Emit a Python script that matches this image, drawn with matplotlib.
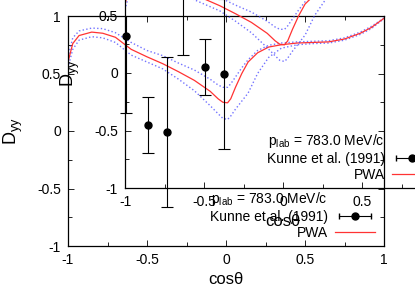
import matplotlib.pyplot as plt
from matplotlib.lines import Line2D
from matplotlib.legend_handler import HandlerLine2D, HandlerTuple
from matplotlib.ticker import MultipleLocator

plt.rcParams['font.family'] = ['Liberation Sans', 'DejaVu Sans']
plt.rcParams['mathtext.fontset'] = 'custom'
plt.rcParams['mathtext.rm'] = 'Liberation Sans'

# PWA curve and its error band
cos_theta = [-1.0, -0.97, -0.93, -0.85, -0.78, -0.7, -0.6, -0.5, -0.4, -0.3,
             -0.2, -0.1, -0.05, -0.02, 0.01, 0.03, 0.06, 0.1, 0.14, 0.2,
             0.27, 0.35, 0.45, 0.55, 0.65, 0.75, 0.85, 0.92, 0.97, 1.0]
pwa = [0.60, 0.76, 0.83, 0.86, 0.85, 0.815, 0.71, 0.645, 0.585, 0.515,
       0.44, 0.345, 0.28, 0.25, 0.245, 0.28, 0.38, 0.50, 0.60, 0.68,
       0.73, 0.75, 0.765, 0.77, 0.775, 0.80, 0.85, 0.90, 0.95, 0.98]
pwa_hi = [0.64, 0.81, 0.87, 0.895, 0.89, 0.855, 0.77, 0.70, 0.655, 0.59,
          0.53, 0.45, 0.40, 0.38, 0.38, 0.41, 0.47, 0.55, 0.62, 0.70,
          0.745, 0.765, 0.775, 0.78, 0.785, 0.81, 0.86, 0.91, 0.955, 0.985]
pwa_lo = [0.55, 0.71, 0.79, 0.82, 0.81, 0.77, 0.66, 0.60, 0.54, 0.45,
          0.35, 0.22, 0.15, 0.11, 0.10, 0.13, 0.19, 0.26, 0.33, 0.50,
          0.64, 0.72, 0.75, 0.76, 0.765, 0.79, 0.84, 0.89, 0.945, 0.975]

# Kunne et al. (1991)
data_x = [-0.633, -0.494, -0.373]
data_y = [0.826, 0.052, -0.009]
data_err = [0.67, 0.24, 0.65]

TICKS = [-1, -0.5, 0, 0.5, 1]
TICK_LABELS = ['-1', '-0.5', '0', '0.5', '1']

RED = '#ff3333'
BLUE = '#4444ff'


def draw_panel(ax):
    ax.patch.set_alpha(0)
    ax.plot(cos_theta, pwa_hi, ':', color=BLUE, lw=1.0, alpha=0.75)
    ax.plot(cos_theta, pwa_lo, ':', color=BLUE, lw=1.0, alpha=0.75)
    ax.plot(cos_theta, pwa, '-', color=RED, lw=0.9)
    ax.errorbar(data_x, data_y, yerr=data_err, fmt='o', color='black',
                ms=5, lw=0.8, capsize=4, capthick=0.8)

    ax.set_xlim(-1, 1)
    ax.set_ylim(-1, 1)
    ax.set_xticks(TICKS)
    ax.set_xticklabels(TICK_LABELS)
    ax.set_yticks(TICKS)
    ax.set_yticklabels(TICK_LABELS)
    ax.xaxis.set_minor_locator(MultipleLocator(0.25))
    ax.yaxis.set_minor_locator(MultipleLocator(0.25))
    ax.tick_params(which='both', direction='in', top=True, right=True,
                   labelsize=10, width=0.6)
    ax.tick_params(which='major', length=4, pad=5)
    ax.tick_params(which='minor', length=3)
    for s in ax.spines.values():
        s.set_linewidth(0.9)

    ax.set_xlabel('cosθ', fontsize=12)
    ax.set_ylabel(r'D$_{\rm yy}$', fontsize=13)
    ax.xaxis.set_label_coords(0.5, -0.115)
    ax.yaxis.set_label_coords(-0.135, 0.5)

    blank = Line2D([], [], linestyle='none')
    caps = Line2D([], [], color='black', lw=0.8, marker='|', ms=4)
    dot = Line2D([], [], color='black', marker='o', ms=5, linestyle='none')
    line = Line2D([], [], color=RED, lw=0.9)
    ax.legend([blank, (caps, dot), line],
              [r'p$_{\rm lab}$ = 783.0 MeV/c', 'Kunne et al. (1991)', 'PWA'],
              handler_map={caps: HandlerLine2D(numpoints=2),
                           tuple: HandlerTuple(ndivide=1)},
              loc='lower right', bbox_to_anchor=(0.972, 0.025),
              frameon=False, markerfirst=False, fontsize=10,
              handlelength=2.9, handletextpad=0.5, labelspacing=0.15,
              borderpad=0, borderaxespad=0)


fig = plt.figure(figsize=(4.15, 2.91), dpi=100)
w, h = 316 / 415, 230 / 291
outer = fig.add_axes([68 / 415, 1 - 246 / 291, w, h])
inner = fig.add_axes([125 / 415, 1 - 188 / 291, w, h])
draw_panel(outer)
draw_panel(inner)

fig.savefig('out.png', dpi=100)
